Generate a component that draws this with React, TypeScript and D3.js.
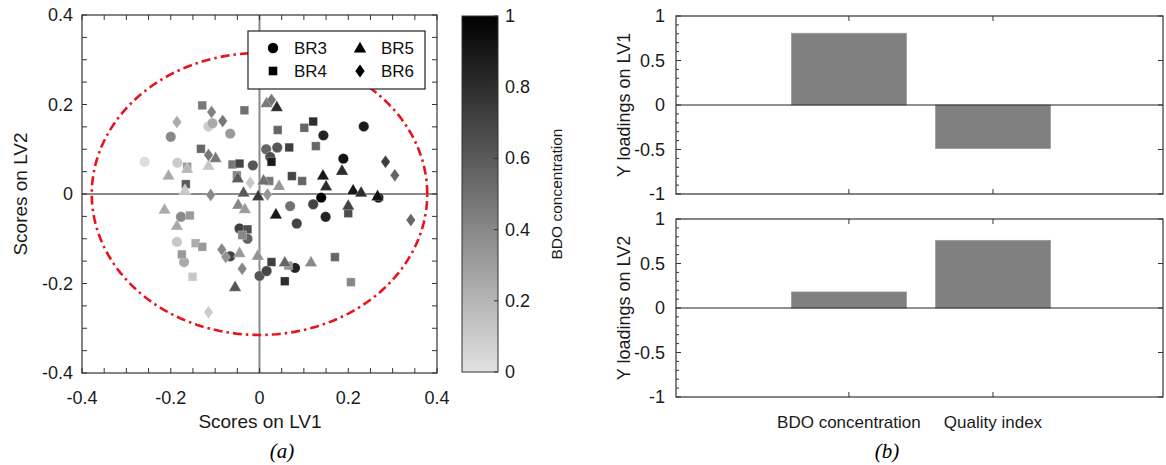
import React from "react";
import * as d3 from "d3";

// ---- Data ----
// [LV1 score, LV2 score, BDO concentration (0..1)]
const br3: [number, number, number][] = [
  [-0.115, 0.151, 0.1], [-0.106, 0.158, 0.25], [-0.2, 0.128, 0.4], [-0.066, 0.135, 0.32],
  [-0.259, 0.072, 0.02], [-0.185, 0.07, 0.1], [-0.015, 0.064, 0.62], [0.144, 0.131, 0.85],
  [0.235, 0.151, 0.88], [0.015, 0.1, 0.55], [0.04, 0.104, 0.62], [0.024, 0.083, 0.65],
  [0.189, 0.079, 0.92], [0.139, -0.008, 1.0], [-0.177, -0.051, 0.4], [-0.186, -0.107, 0.12],
  [-0.17, -0.152, 0.25], [-0.045, -0.077, 0.72], [-0.027, -0.1, 0.55], [-0.066, -0.139, 0.7],
  [0.0, -0.183, 0.62], [0.069, -0.027, 0.5], [0.121, -0.023, 0.7], [0.149, -0.051, 0.85],
  [0.084, -0.066, 0.7], [0.268, -0.008, 0.9], [0.08, -0.165, 0.85], [0.016, -0.172, 0.7],
];
const br4: [number, number, number][] = [
  [-0.129, 0.198, 0.47], [-0.034, 0.187, 0.5], [-0.132, 0.101, 0.55], [-0.163, 0.061, 0.33],
  [-0.061, 0.066, 0.47], [-0.045, 0.068, 0.7], [-0.051, 0.042, 0.4], [-0.166, 0.022, 0.6],
  [0.041, 0.143, 0.55], [0.101, 0.148, 0.55], [0.121, 0.162, 0.8], [0.067, 0.104, 0.72],
  [0.127, 0.107, 0.55], [0.027, 0.072, 0.88], [0.022, 0.029, 0.47], [0.073, 0.04, 0.7],
  [0.096, 0.029, 0.55], [-0.157, -0.048, 0.32], [-0.144, -0.11, 0.25], [-0.129, -0.118, 0.32],
  [-0.175, -0.135, 0.32], [-0.151, -0.185, 0.12], [-0.027, -0.079, 0.65], [-0.039, -0.092, 0.4],
  [0.2, -0.043, 0.65], [0.027, -0.152, 0.72], [0.065, -0.16, 0.35], [0.17, -0.141, 0.55],
  [0.057, -0.195, 0.8], [0.206, -0.197, 0.4],
];
const br5: [number, number, number][] = [
  [-0.099, 0.081, 0.47], [-0.163, 0.057, 0.18], [-0.115, 0.064, 0.12], [-0.205, 0.042, 0.25],
  [-0.049, 0.036, 0.6], [-0.168, 0.009, 0.1], [-0.036, 0.004, 0.6], [-0.003, -0.004, 0.75],
  [0.016, 0.204, 0.47], [0.039, 0.195, 0.8], [0.186, 0.053, 0.8], [0.009, 0.031, 0.5],
  [0.044, 0.019, 0.33], [0.143, 0.042, 0.9], [0.15, 0.018, 0.8], [0.211, 0.009, 0.9],
  [0.229, 0.004, 0.8], [0.266, -0.004, 0.92], [-0.214, -0.034, 0.25], [-0.186, -0.07, 0.25],
  [-0.048, -0.023, 0.4], [-0.033, -0.033, 0.32], [-0.045, -0.131, 0.32], [-0.055, -0.207, 0.62],
  [-0.004, -0.137, 0.35], [0.037, -0.045, 0.9], [0.2, -0.025, 0.7], [0.057, -0.152, 0.55],
  [0.116, -0.152, 0.4],
];
const br6: [number, number, number][] = [
  [-0.108, 0.183, 0.43], [-0.186, 0.161, 0.25], [-0.083, 0.163, 0.47], [-0.115, 0.087, 0.47],
  [-0.021, 0.025, 0.12], [-0.11, -0.002, 0.4], [0.027, 0.21, 0.47], [0.284, 0.072, 0.72],
  [0.305, 0.042, 0.55], [0.018, -0.001, 0.33], [-0.115, -0.264, 0.1], [-0.085, -0.124, 0.4],
  [-0.076, -0.141, 0.35], [-0.039, -0.167, 0.4], [0.341, -0.058, 0.55],
];

const scoreTicks = [-0.4, -0.2, 0, 0.2, 0.4];
const colorbarTicks = [0, 0.2, 0.4, 0.6, 0.8, 1];
const ellipseRadii = [0.378, 0.315];

const loadingCategories = ["BDO concentration", "Quality index"];
const loadingsLV1 = [0.806, -0.489];
const loadingsLV2 = [0.18, 0.76];
const loadingTicks = [-1, -0.5, 0, 0.5, 1];

const FONT = "'Liberation Sans', Arial, Helvetica, sans-serif";
const fmt = (v: number) => String(+v.toFixed(2));

const shapePath = (shape: string) => {
  switch (shape) {
    case "circle":
      return d3.symbol(d3.symbolCircle, Math.PI * 5.2 * 5.2)() as string;
    case "square":
      return "M-4.3,-4.3H4.3V4.3H-4.3Z";
    case "triangle":
      return "M0,-6.3L6.2,4.6L-6.2,4.6Z";
    default:
      return "M0,-6.5L4.7,0L0,6.5L-4.7,0Z";
  }
};

export default function App() {
  const x = d3.scaleLinear().domain([-0.4, 0.4]).range([82, 437]);
  const y = d3.scaleLinear().domain([-0.4, 0.4]).range([373, 15]);
  const color = d3.scaleLinear<string>().domain([0, 1]).range(["rgb(226,226,226)", "rgb(0,0,0)"]).interpolate(d3.interpolateRgb);

  const minor = d3.range(-0.4, 0.4001, 0.05);

  const groups = [
    { data: br3, shape: "circle" },
    { data: br4, shape: "square" },
    { data: br5, shape: "triangle" },
    { data: br6, shape: "diamond" },
  ];

  const ell = d3.range(0, 361, 2).map((a) => {
    const t = (a * Math.PI) / 180;
    return [x(ellipseRadii[0] * Math.cos(t)), y(ellipseRadii[1] * Math.sin(t))] as [number, number];
  });
  const ellPath = d3.line()(ell) as string;

  const cb = d3.scaleLinear().domain([0, 1]).range([372, 16]);
  const cbX0 = 462, cbX1 = 498;

  const bx = d3.scaleLinear().domain([-0.2, 3.18]).range([676, 1163]);
  const panels = [
    { vals: loadingsLV1, top: 16, bottom: 194, title: "Y loadings on LV1" },
    { vals: loadingsLV2, top: 219, bottom: 397, title: "Y loadings on LV2" },
  ];
  const barW = 115;

  return (
    <svg width={1166} height={465} style={{ position: "absolute", left: 0, top: 0, background: "#fff" }} fontFamily={FONT}>
      <rect x={0} y={0} width={1166} height={465} fill="#fff" />
      {/* ---------- (a) scatter ---------- */}
      <line x1={x(0)} x2={x(0)} y1={y(0.4)} y2={y(-0.4)} stroke="#8a8a8a" strokeWidth={2} />
      <line x1={x(-0.4)} x2={x(0.4)} y1={y(0)} y2={y(0)} stroke="#8a8a8a" strokeWidth={2} />
      <path d={ellPath} fill="none" stroke="#e8141c" strokeWidth={2.6} strokeDasharray="9,4,2.5,4" />
      {groups.map((g) =>
        g.data.map((d, i) => (
          <path
            key={g.shape + i}
            d={shapePath(g.shape)}
            transform={`translate(${x(d[0])},${y(d[1])})`}
            fill={color(d[2])}
            stroke="rgba(255,255,255,0.45)"
            strokeWidth={0.6}
          />
        ))
      )}
      <rect x={82} y={15} width={355} height={358} fill="none" stroke="#333" strokeWidth={1.2} />
      {minor.map((v, i) => (
        <g key={"mt" + i} stroke="#333" strokeWidth={1}>
          <line x1={x(v)} x2={x(v)} y1={373} y2={368} />
          <line x1={x(v)} x2={x(v)} y1={15} y2={20} />
          <line x1={82} x2={87} y1={y(v)} y2={y(v)} />
          <line x1={437} x2={432} y1={y(v)} y2={y(v)} />
        </g>
      ))}
      {scoreTicks.map((v) => (
        <g key={"st" + v} fontSize={18} fill="#1a1a1a">
          <text x={x(v)} y={404} textAnchor="middle">{fmt(v)}</text>
          <text x={73} y={y(v) + 6} textAnchor="end">{fmt(v)}</text>
        </g>
      ))}
      <text x={260} y={428} textAnchor="middle" fontSize={19} fill="#1a1a1a">Scores on LV1</text>
      <text transform={`translate(27,194) rotate(-90)`} textAnchor="middle" fontSize={19} fill="#1a1a1a">Scores on LV2</text>
      <text x={282} y={458} textAnchor="middle" fontSize={21} fontStyle="italic" fontFamily="'Liberation Serif', 'Times New Roman', serif">(a)</text>

      {/* legend */}
      <rect x={248} y={31} width={177} height={58} fill="#fff" stroke="#222" strokeWidth={1.2} />
      {[
        { s: "circle", t: "BR3", cx: 273, cy: 48 },
        { s: "triangle", t: "BR5", cx: 360, cy: 48 },
        { s: "square", t: "BR4", cx: 273, cy: 71 },
        { s: "diamond", t: "BR6", cx: 360, cy: 71 },
      ].map((l) => (
        <g key={l.t}>
          <path d={shapePath(l.s)} transform={`translate(${l.cx},${l.cy})`} fill="#000" />
          <text x={l.cx + 21} y={l.cy + 6} fontSize={17} fill="#111">{l.t}</text>
        </g>
      ))}

      {/* colorbar */}
      <defs>
        <linearGradient id="cbg" x1="0" y1="1" x2="0" y2="0">
          {d3.range(0, 1.0001, 0.1).map((v) => (
            <stop key={v} offset={v} stopColor={color(v)} />
          ))}
        </linearGradient>
      </defs>
      <rect x={cbX0} y={16} width={cbX1 - cbX0} height={356} fill="url(#cbg)" stroke="#333" strokeWidth={1} />
      {colorbarTicks.map((v) => (
        <g key={"cb" + v}>
          <line x1={cbX1} x2={cbX1 - 4} y1={cb(v)} y2={cb(v)} stroke="#333" />
          <text x={505} y={cb(v) + 6} fontSize={18} fill="#1a1a1a">{fmt(v)}</text>
        </g>
      ))}
      <text transform={`translate(562,194) rotate(-90)`} textAnchor="middle" fontSize={15.5} fill="#1a1a1a">BDO concentration</text>

      {/* ---------- (b) loadings ---------- */}
      {panels.map((p, pi) => {
        const py = d3.scaleLinear().domain([-1, 1]).range([p.bottom, p.top]);
        const minorY = d3.range(-1, 1.0001, 0.1);
        return (
          <g key={"p" + pi}>
            {p.vals.map((v, i) => (
              <rect
                key={i}
                x={bx(i + 1) - barW / 2}
                width={barW}
                y={py(Math.max(0, v))}
                height={Math.abs(py(v) - py(0))}
                fill="#808080"
                stroke="#9a9a9a"
                strokeWidth={0.8}
              />
            ))}
            <line x1={676} x2={1163} y1={py(0)} y2={py(0)} stroke="#222" strokeWidth={1} />
            <rect x={676} y={p.top} width={1163 - 676} height={p.bottom - p.top} fill="none" stroke="#333" strokeWidth={1.2} />
            {minorY.map((v, i) => {
              const major = Math.abs(Math.round(v * 2) - v * 2) < 1e-6;
              return (
                <g key={"my" + i} stroke="#333">
                  <line x1={676} x2={676 + (major ? 5 : 3)} y1={py(v)} y2={py(v)} />
                  {major && <line x1={1163} x2={1158} y1={py(v)} y2={py(v)} />}
                </g>
              );
            })}
            {loadingCategories.map((c, i) => (
              <g key={"ct" + i} stroke="#333">
                <line x1={bx(i + 1)} x2={bx(i + 1)} y1={p.top} y2={p.top + 5} />
                <line x1={bx(i + 1)} x2={bx(i + 1)} y1={p.bottom} y2={p.bottom - 5} />
              </g>
            ))}
            {loadingTicks.map((v) => (
              <text key={"lt" + v} x={665} y={py(v) + 6} textAnchor="end" fontSize={18} fill="#1a1a1a">
                {fmt(v)}
              </text>
            ))}
            <text transform={`translate(630,${(p.top + p.bottom) / 2}) rotate(-90)`} textAnchor="middle" fontSize={18} fill="#1a1a1a">
              {p.title}
            </text>
          </g>
        );
      })}
      {loadingCategories.map((c, i) => (
        <text key={"cl" + i} x={bx(i + 1)} y={428} textAnchor="middle" fontSize={17} fill="#1a1a1a">
          {c}
        </text>
      ))}
      <text x={887} y={458} textAnchor="middle" fontSize={21} fontStyle="italic" fontFamily="'Liberation Serif', 'Times New Roman', serif">(b)</text>
    </svg>
  );
}
